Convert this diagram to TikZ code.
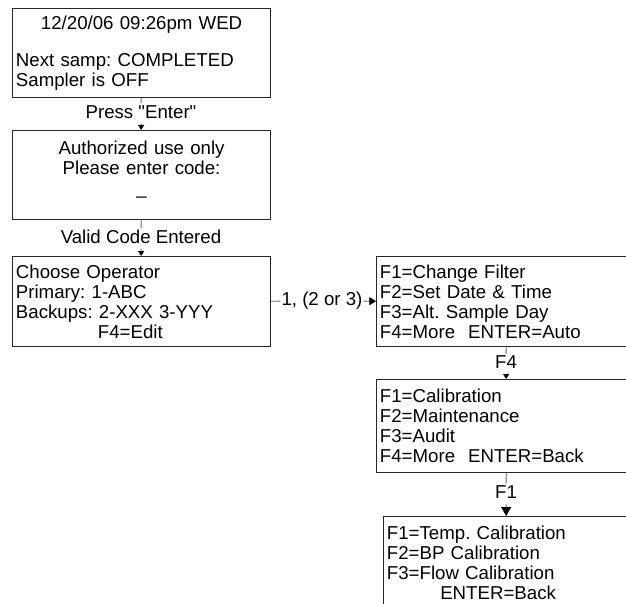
\documentclass[tikz,border=0pt]{standalone}
\usepackage{fontspec}
\setmainfont{Liberation Sans}[Ligatures=TeXOff]
\usetikzlibrary{arrows.meta}
\frenchspacing

\newcommand{\scrctr}[1]{\leavevmode\hbox to\hsize{\hfil#1\hfil}}

\begin{document}
\begin{tikzpicture}[x=0.75pt,y=0.75pt,yscale=-1,xscale=1,
    scrbox/.style={draw=black!85, line width=0.9pt, anchor=north west, inner xsep=2.5pt, inner ysep=0pt, align=left, font=\fontsize{14}{15}\selectfont},
    keylbl/.style={inner xsep=0.75pt, inner ysep=1pt, text height=10pt, text depth=3pt, font=\fontsize{14}{15}\selectfont},
    keyline/.style={draw=black!60, line width=0.6pt},
    keyarrow/.style={keyline, -{Triangle[width=4.5pt,length=3.75pt]}, arrows={[color=black]}}]
  \useasboundingbox (0,0) rectangle (626,604);

  % Screen Nodes
  \node (status) [scrbox, minimum width=193.5pt, minimum height=66.75pt, text width=188.5pt] at (12,8) {\scrctr{12/20/06 09:26pm WED}\\[12.75pt]
    Next samp: COMPLETED\\
    Sampler is OFF};
  \node (passcode) [scrbox, minimum width=193.5pt, minimum height=66.75pt, text width=188.5pt] at (12,130) {\scrctr{Authorized use only}\\
    \scrctr{Please enter code:}\\
    \scrctr{\_}\\[-3.75pt]\mbox{}};
  \node (operator) [scrbox, minimum width=193.5pt, minimum height=67.5pt, text width=188.5pt] at (12,256) {Choose Operator\\
    Primary: 1-ABC\\
    Backups: 2-XXX 3-YYY\\
    \hspace*{61.5pt}F4=Edit};
  \node (mainmenu) [scrbox, minimum width=195pt, minimum height=67.5pt, text width=190pt] at (376,256) {F1=Change Filter\\
    F2=Set Date \& Time\\
    F3=Alt. Sample Day\\
    F4=More\hspace{9.75pt}ENTER=Auto};
  \node (moremenu) [scrbox, minimum width=195pt, minimum height=69.75pt, text width=190pt] at (376,379) {F1=Calibration\\
    F2=Maintenance\\
    F3=Audit\\
    F4=More\hspace{9.75pt}ENTER=Back};
  \node (calmenu) [scrbox, inner ysep=7pt, minimum width=184.5pt, text width=179.5pt] at (383,516) {F1=Temp. Calibration\\
    F2=BP Calibration\\
    F3=Flow Calibration\\
    \hspace*{40pt}ENTER=Back};

  % Key Labels
  \node (enter) [keylbl] at (141,113.35) {Press "Enter"};
  \node (valid) [keylbl] at (141,238.35) {Valid Code Entered};
  \node (choice) [keylbl] at (322,301) {1, (2 or 3)};
  \node (keyfour) [keylbl] at (506,363.85) {F4};
  \node (keyone) [keylbl] at (506,493.85) {F1};

  % Connectors
  \draw [keyline] (status) -- (enter);
  \draw [keyarrow] (enter) -- (passcode);
  \draw [keyline] (passcode) -- (valid);
  \draw [keyarrow] (valid) -- (operator);
  \draw [keyline] (operator) -- (choice);
  \draw [keyarrow, -{Triangle[width=6pt,length=5pt]}] (choice) -- (mainmenu);
  \draw [keyline] (mainmenu) -- (keyfour);
  \draw [keyarrow] (keyfour) -- (moremenu);
  \draw [keyline] (moremenu) -- (keyone);
  \draw [keyarrow, -{Triangle[width=7.5pt,length=6.75pt]}] (keyone) -- (calmenu);
\end{tikzpicture}
\end{document}
